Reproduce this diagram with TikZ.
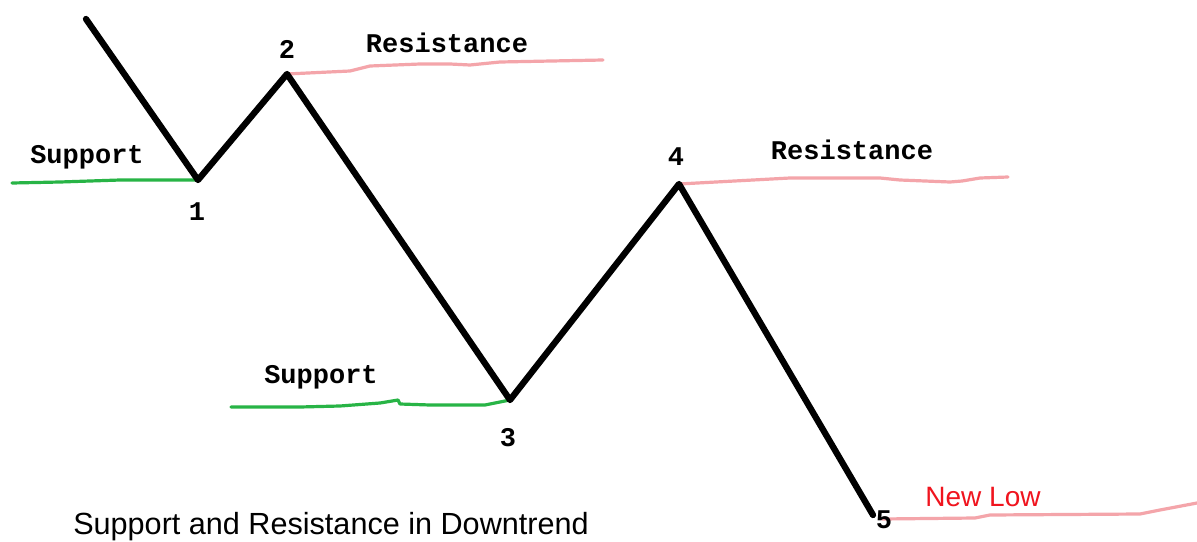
\documentclass[tikz,border=0pt]{standalone}
\usepackage{fontspec}
\setmainfont{Liberation Sans}
\newfontfamily\handmono{Liberation Mono}
\begin{document}
\begin{tikzpicture}[x=1pt,y=-1pt,
  price/.style={line width=6.3pt,line cap=round,line join=round,black},
  supline/.style={line width=3.2pt,color={rgb,255:red,40;green,180;blue,70},line cap=round,line join=round},
  resline/.style={line width=3.2pt,color={rgb,255:red,244;green,165;blue,170},line cap=round,line join=round},
  lbl/.style={font=\handmono\bfseries\fontsize{27}{27}\selectfont,inner sep=0pt},
  num/.style={font=\handmono\bfseries\fontsize{27}{27}\selectfont,inner sep=0pt},
  newlow/.style={font=\fontsize{28}{28}\selectfont,text={rgb,255:red,240;green,20;blue,30},inner sep=0pt},
  caption/.style={font=\fontsize{30.6}{31}\selectfont,inner sep=0pt}]
\useasboundingbox[fill=white] (0,0) rectangle (1197,541);
% price path points
\coordinate (p0) at (86,19);
\coordinate (p1) at (198,180);
\coordinate (p2) at (287,74);
\coordinate (p3) at (510,400);
\coordinate (p4) at (679,184);
\coordinate (p5) at (873,515);
% support / resistance lines
\coordinate (s1a) at (12,183);
\coordinate (s2a) at (231,407);
\coordinate (r1b) at (603,60);
\coordinate (r2b) at (1008,177);
\coordinate (r3a) at (882,519);
\coordinate (r3b) at (1197,503);
\draw[supline] (s1a) -- (60,182) -- (120,180) -- (185,180) -- (p1);
\draw[supline] (s2a) -- (300,407) -- (340,406) -- (380,403) -- (398,400) -- (400,404) -- (430,405) -- (485,405) -- (500,402) -- (p3);
\draw[resline] (p2) -- (350,71) -- (370,66) -- (420,64) -- (450,64) -- (470,65) -- (500,62) -- (r1b);
\draw[resline] (p4) -- (790,178) -- (880,178) -- (900,180) -- (950,182) -- (962,181) -- (980,178) -- (r2b);
\draw[resline] (r3a) -- (975,518) -- (990,515) -- (1140,514) -- (1160,510) -- (r3b);
\draw[price] (p0) -- (p1) -- (p2) -- (p3) -- (p4) -- (p5);
% labels
\node[lbl] (sup1) at (87,157) {Support};
\node[lbl] (sup2) at (321,377) {Support};
\node[lbl] (res1) at (447,43) {Resistance};
\node[lbl] (res2) at (852,150) {Resistance};
\node[num] (n1) at (197,212) {1};
\node[num] (n2) at (287,49) {2};
\node[num] (n3) at (508,438) {3};
\node[num] (n4) at (676,157) {4};
\node[num] (n5) at (884,520) {5};
\node[newlow] (nl) at (983,497) {New Low};
\node[caption] (cap) at (331,527) {Support and Resistance in Downtrend};
\end{tikzpicture}
\end{document}
